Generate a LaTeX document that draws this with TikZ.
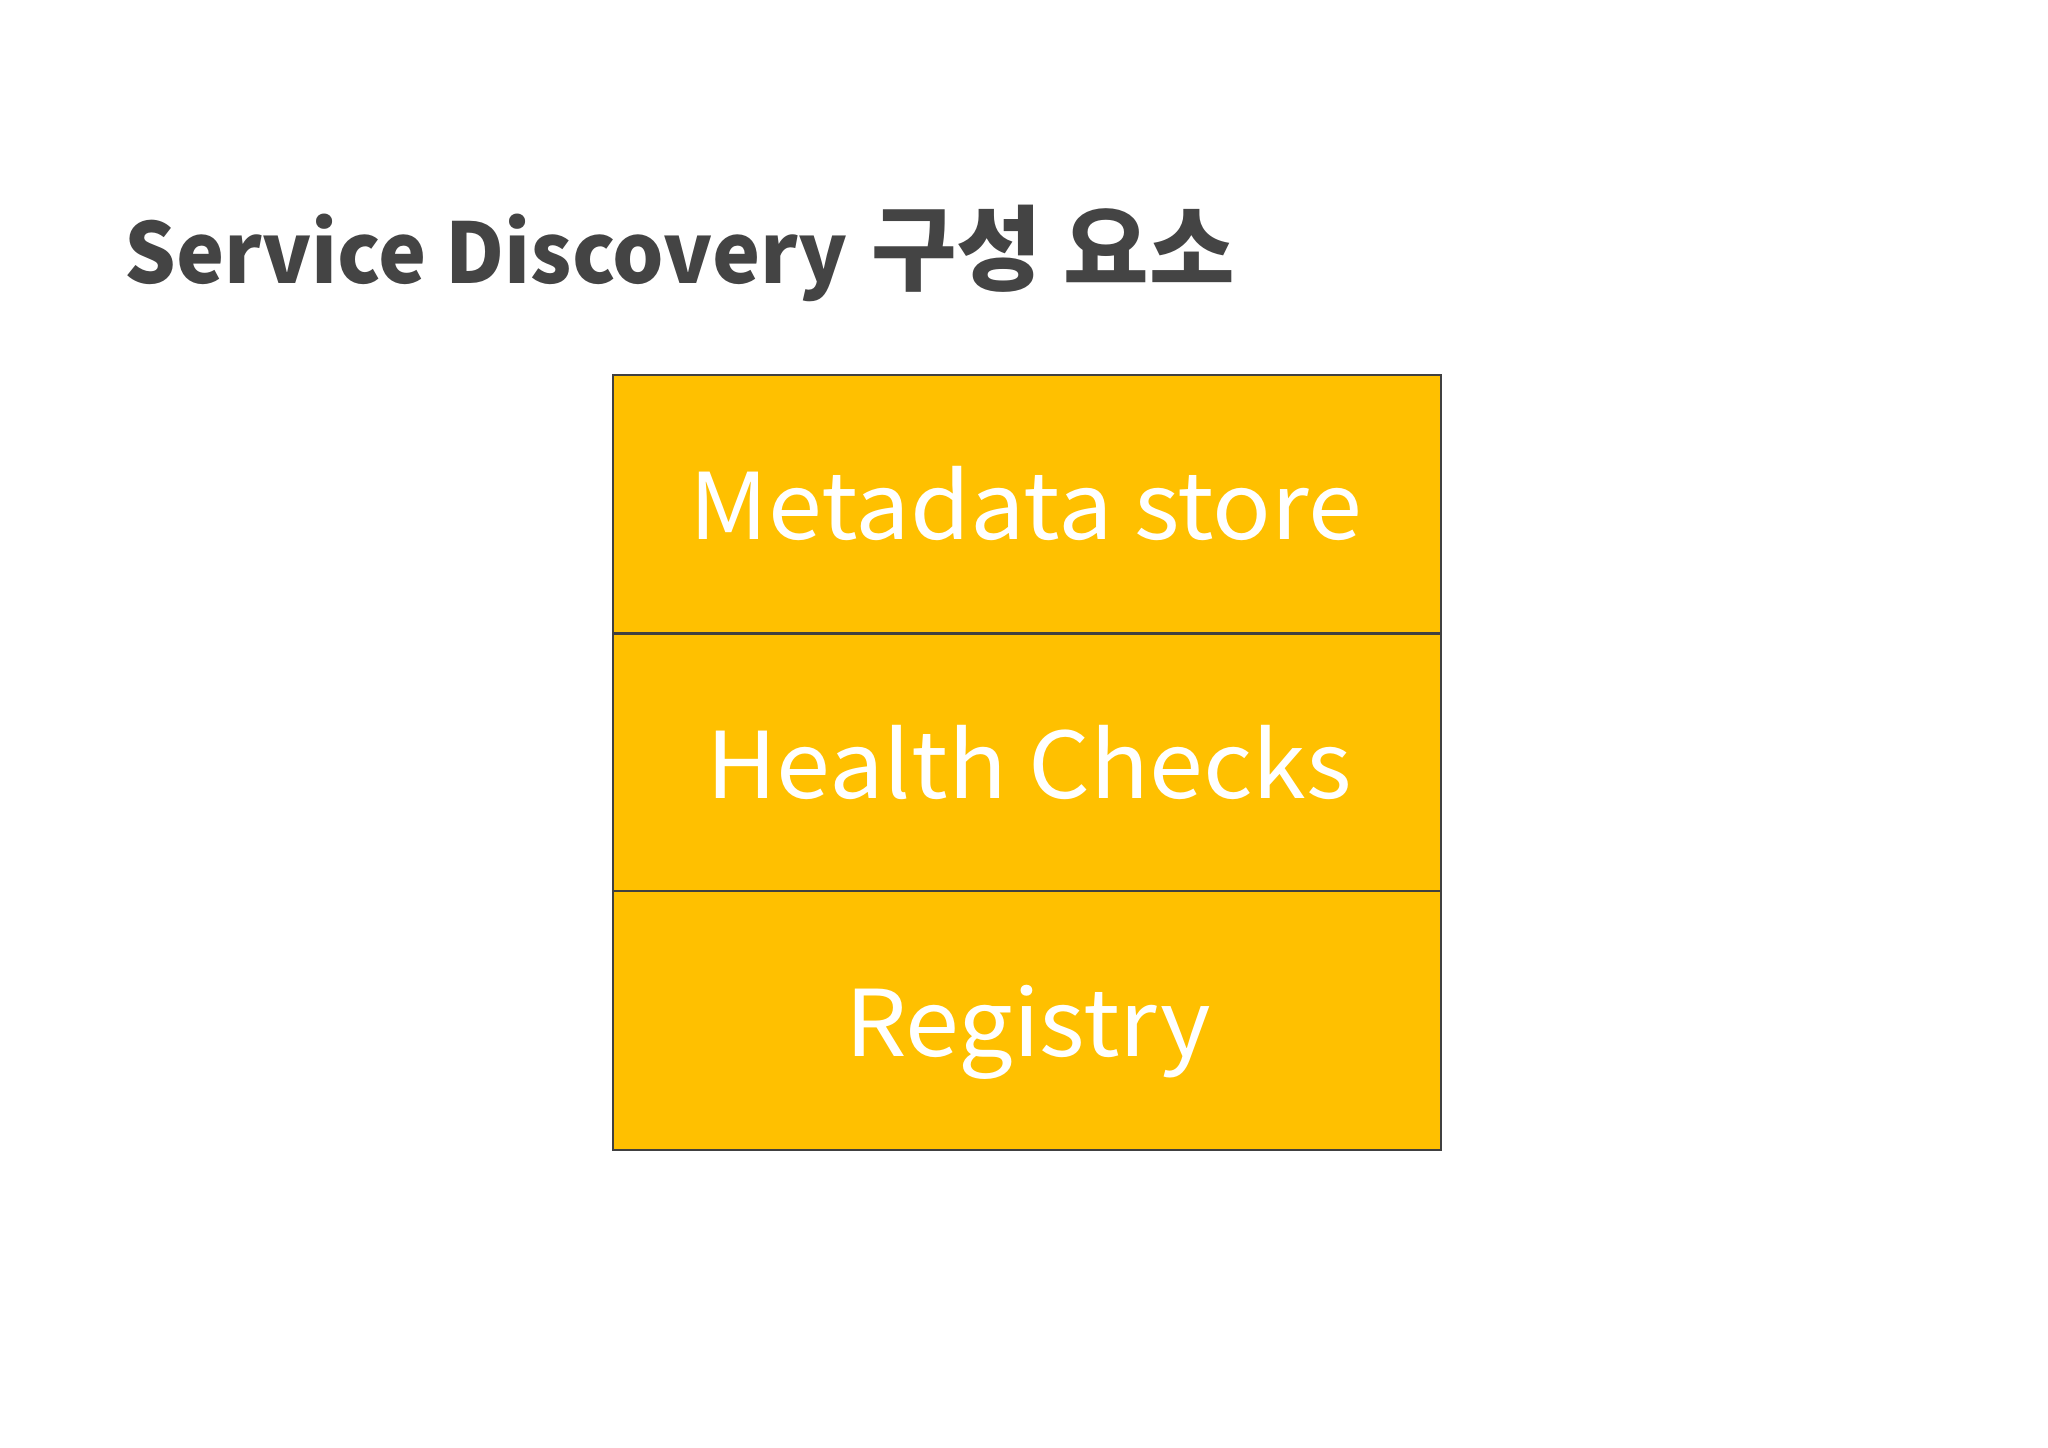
\documentclass[tikz,border=0pt]{standalone}
\usepackage{fontspec}
\setmainfont{Noto Sans CJK KR}
\newfontfamily\titlelat[FakeStretch=0.97]{Noto Sans CJK KR}
\newfontfamily\lblfont[FakeStretch=1.055]{Noto Sans CJK KR}
\definecolor{titlegray}{HTML}{444444}
\definecolor{gold}{HTML}{FFC000}
\definecolor{edge}{HTML}{404040}
\begin{document}
\begin{tikzpicture}[x=0.5pt,y=-0.5pt,
  layer/.style={draw=edge,line width=1pt,fill=gold,minimum width=414pt,minimum height=129.25pt,inner sep=0pt,outer sep=0pt},
  lbl/.style={text=white,font=\lblfont\fontsize{46}{50}\selectfont,anchor=base,inner sep=0pt},
  ttl/.style={text=titlegray,anchor=base west,inner sep=0pt}]
\useasboundingbox (0,0) rectangle (2048,1447);
\fill[white] (0,0) rectangle (2048,1447);
\node[ttl] (title) at (124,283) {{\titlelat\bfseries\fontsize{41.8}{46}\selectfont Service Discovery}\hspace{12pt}{\bfseries\fontsize{46.5}{50}\selectfont 구성 요소}};
\node[layer] (r1) at (1026.6,504.2) {};
\node[layer] (r2) at (1026.6,762.75) {};
\node[layer] (r3) at (1026.6,1020.7) {};
\node[lbl] (t1) at (1026,539.4) {Metadata store};
\node[lbl] (t2) at (1029,798) {Health Checks};
\node[lbl] (t3) at (1028,1056.6) {Registry};
\end{tikzpicture}
\end{document}
